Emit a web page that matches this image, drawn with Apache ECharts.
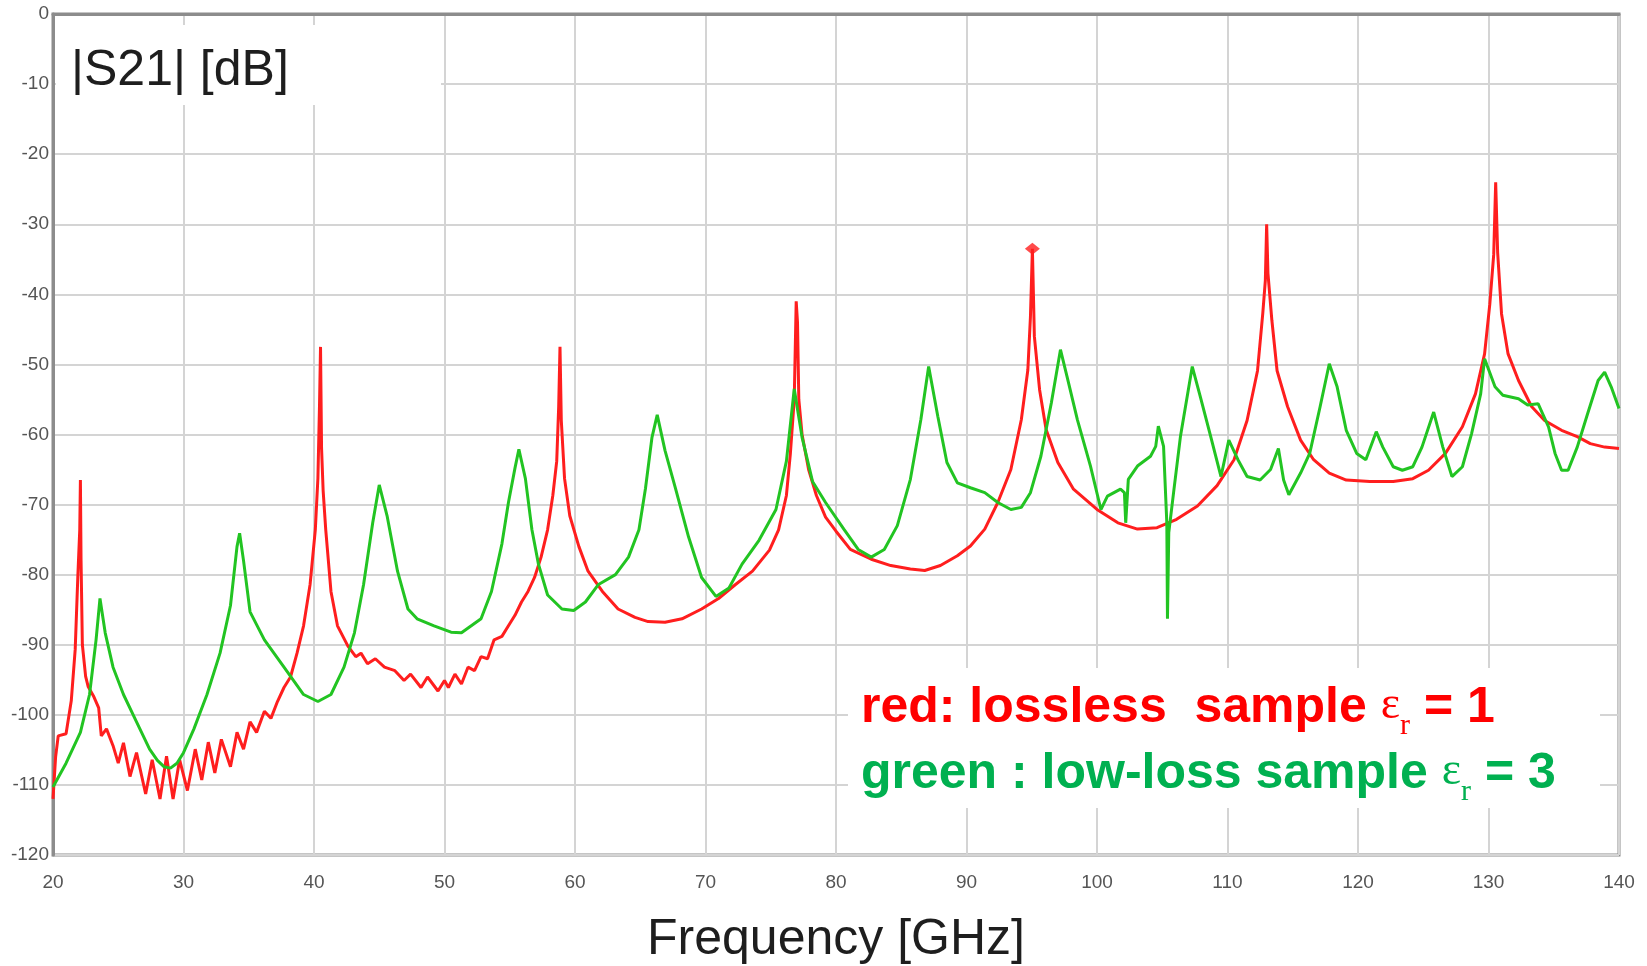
<!DOCTYPE html>
<html><head><meta charset="utf-8">
<script src="https://cdn.jsdelivr.net/npm/echarts@6.0.0/dist/echarts.min.js"></script>
<style>html,body{margin:0;padding:0;background:#fff}#c{width:1647px;height:966px}</style>
</head><body><div id="c"></div><script>
// ---- axis settings ----
const xMin = 20, xMax = 140, xStep = 10;
const yMin = -120, yMax = 0, yStep = 10;

// ---- red: lossless sample, eps_r = 1 ----
const redFreq = [20.0,20.2,20.4,21.0,21.4,21.7,21.9,22.05,22.1,22.15,22.25,22.5,22.7,23.1,23.5,23.7,24.1,24.6,25.0,25.4,25.9,26.4,27.1,27.6,28.2,28.7,29.2,29.7,30.3,30.9,31.4,31.9,32.4,32.9,33.6,34.1,34.6,35.1,35.6,36.2,36.7,37.2,37.7,38.2,38.7,39.2,39.7,40.1,40.3,40.42,40.5,40.58,40.7,40.9,41.3,41.8,42.6,43.2,43.6,44.1,44.7,45.4,46.2,46.9,47.4,48.2,48.7,49.5,50.0,50.3,50.8,51.3,51.8,52.3,52.8,53.3,53.8,54.4,54.9,55.4,55.9,56.4,56.9,57.4,57.9,58.3,58.6,58.75,58.85,58.95,59.2,59.6,60.3,61.0,62.1,63.3,64.6,65.6,66.9,68.2,69.7,71.0,72.3,73.6,74.9,75.6,76.2,76.5,76.8,76.95,77.05,77.15,77.4,77.9,78.5,79.2,80.0,81.1,82.7,84.2,85.7,86.8,88.0,89.3,90.3,91.4,92.4,93.4,94.2,94.7,94.9,95.05,95.2,95.6,96.1,97.0,98.2,100.0,101.6,103.1,104.6,106.1,107.7,109.2,110.5,111.5,112.3,112.7,112.9,113.0,113.1,113.4,113.8,114.6,115.6,116.6,117.8,119.1,120.9,122.7,124.2,125.4,126.7,128.0,129.0,129.7,130.1,130.4,130.55,130.7,131.0,131.5,132.3,133.3,134.3,135.6,136.8,137.8,138.9,140.0];
const redDb = [-112,-106,-103,-102.7,-98,-90.7,-80.4,-73.6,-66.5,-78,-90,-94.5,-96,-97.3,-99,-103,-102,-104.4,-106.9,-104,-108.8,-105.4,-111.3,-106.4,-112,-105.9,-112,-106.4,-110.8,-104.9,-109.3,-103.9,-108.3,-103.5,-107.4,-102.5,-104.9,-101,-102.5,-99.5,-100.5,-98.1,-96.1,-94.6,-91.2,-87.3,-81.4,-73.6,-66.2,-56,-47.5,-62,-68,-73.6,-82.4,-87.3,-90.2,-91.7,-91.2,-92.7,-92,-93.2,-93.7,-95.1,-94.2,-96.1,-94.6,-96.6,-95.1,-96.1,-94.2,-95.6,-93.2,-93.7,-91.7,-92,-89.3,-88.8,-87.3,-85.8,-83.9,-82.4,-80.4,-77.5,-73.6,-68.7,-63.8,-56,-47.5,-58,-66.3,-71.6,-76,-79.5,-82.4,-84.9,-86.1,-86.7,-86.8,-86.3,-84.9,-83.4,-81.4,-79.5,-76.5,-73.6,-68.7,-62.8,-55,-41,-44,-55,-60,-65,-68.7,-71.8,-73.8,-76.4,-77.8,-78.7,-79.2,-79.4,-78.7,-77.3,-75.9,-73.5,-69.7,-65,-57.9,-50.8,-43.2,-33.5,-46,-53.6,-59.3,-64,-67.8,-70.7,-72.6,-73.5,-73.3,-72.1,-70.2,-67.3,-63.6,-58,-50.9,-42.8,-38,-30,-37,-43.7,-50.9,-56,-60.8,-63.6,-65.5,-66.5,-66.7,-66.7,-66.3,-65.1,-62.7,-58.9,-54.2,-48.5,-41.4,-34.3,-24,-34,-42.8,-48.5,-52.3,-56,-58,-59.4,-60.3,-61.3,-61.8,-62];
const redMarker = [[95.05, -33.5]];

// ---- green: low-loss sample, eps_r = 3 ----
const greenFreq = [20.0,21.0,22.1,22.8,23.3,23.6,24.0,24.6,25.4,26.4,27.4,28.0,28.5,29.0,29.5,30.0,30.8,31.8,32.8,33.6,34.1,34.3,34.6,35.1,36.2,37.7,39.2,40.3,41.3,42.3,43.1,43.8,44.5,45.0,45.6,46.4,47.2,47.9,49.2,50.5,51.3,52.8,53.6,54.4,54.9,55.4,55.7,56.2,56.7,57.2,57.9,59.0,59.9,60.8,61.8,63.1,64.1,64.9,65.4,65.9,66.3,66.9,67.7,68.7,69.7,70.8,71.8,72.8,74.1,75.4,76.2,76.8,77.4,78.2,79.2,80.6,81.7,82.7,83.7,84.7,85.7,86.5,87.1,87.8,88.5,89.3,90.3,91.4,92.4,93.4,94.2,94.9,95.7,96.5,97.2,97.7,98.5,99.5,100.3,100.8,101.8,102.1,102.2,102.4,103.1,104.1,104.5,104.7,105.1,105.35,105.4,105.5,105.9,106.4,107.3,107.9,108.7,109.5,110.1,110.8,111.5,112.5,113.3,113.9,114.3,114.7,115.6,116.3,117.1,117.8,118.4,119.1,119.9,120.6,121.4,121.9,122.7,123.4,124.2,124.9,125.8,126.5,127.2,128.0,128.7,129.4,129.7,130.5,131.1,132.3,133.0,133.8,134.6,135.1,135.6,136.1,136.8,137.6,138.4,138.9,139.4,140.0];
const greenDb = [-110.3,-106.9,-102.5,-97.1,-89.3,-83.4,-88.3,-93.2,-97.1,-101,-104.9,-106.5,-107.4,-107.6,-106.9,-105.4,-102,-97.1,-91.2,-84.4,-76,-74.1,-78,-85.3,-89.3,-93.2,-97.1,-98.1,-97.1,-93.2,-88.3,-81.4,-72.6,-67.2,-71.6,-79.5,-84.9,-86.3,-87.3,-88.2,-88.3,-86.3,-82.4,-75.6,-69.7,-64.8,-62.1,-66.3,-73.6,-78.5,-82.9,-84.9,-85.1,-83.9,-81.4,-80,-77.5,-73.6,-67.7,-60.4,-57.2,-62.3,-67.7,-74.6,-80.4,-83.1,-81.9,-78.5,-75.1,-70.7,-63.8,-53.5,-60.4,-66.7,-69.7,-73.5,-76.4,-77.5,-76.4,-73,-66.4,-57.9,-50.3,-57.4,-64,-66.9,-67.6,-68.3,-69.7,-70.7,-70.4,-68.3,-63.1,-55.5,-47.9,-51.7,-57.9,-64.5,-70.7,-68.8,-67.8,-68.3,-72.6,-66.4,-64.5,-63.1,-61.7,-58.8,-61.7,-72.6,-86.3,-74,-67.8,-60.2,-50.3,-54.5,-60.2,-66,-60.8,-63.6,-66,-66.5,-65,-62,-66.5,-68.6,-65.5,-62.7,-56,-49.9,-53.2,-59.4,-62.7,-63.6,-59.6,-61.8,-64.6,-65.1,-64.6,-61.8,-56.8,-61.8,-66,-64.6,-59.9,-54.2,-49.2,-53.2,-54.4,-54.9,-55.8,-55.6,-58.9,-62.7,-65.1,-65.1,-61.8,-57,-52.3,-51.1,-53.2,-56.3];

// ---- texts ----
const titleText = '|S21| [dB]';
const xName = 'Frequency [GHz]';
const redLabel = ['red: lossless  sample ', 'ε', 'r', ' = 1'];
const greenLabel = ['green : low-loss sample ', 'ε', 'r', ' = 3'];

const pairs = (xs, ys) => xs.map((x, i) => [x, ys[i]]);
const RED = '#ff1e1e', GREEN = '#22c422';
const RED_TXT = '#ff0000', GREEN_TXT = '#00b050';

function richStyles(color) {
  return {
    a: {fontFamily: 'Liberation Sans', fontWeight: 'bold', fontSize: 50, lineHeight: 58, verticalAlign: 'top', fill: color},
    e: {fontFamily: 'Liberation Serif', fontWeight: 'normal', fontSize: 46, lineHeight: 58, verticalAlign: 'top', fill: color},
    s: {fontFamily: 'Liberation Serif', fontWeight: 'normal', fontSize: 30, lineHeight: 30, padding: [28, 0, 0, 0], verticalAlign: 'top', fill: color}
  };
}
function richText(parts) {
  return '{a|' + parts[0] + '}{e|' + parts[1] + '}{s|' + parts[2] + '}{a|' + parts[3] + '}';
}

const chart = echarts.init(document.getElementById('c'), null, {renderer: 'canvas'});
chart.setOption({
  animation: false,
  backgroundColor: '#ffffff',
  grid: {left: 53, right: 28, top: 14, bottom: 111, show: true, borderColor: '#8c8c8c', borderWidth: 3,
         backgroundColor: 'transparent', containLabel: false, outerBoundsMode: 'none'},
  xAxis: {
    type: 'value', min: xMin, max: xMax, interval: xStep,
    name: xName, nameLocation: 'middle', nameGap: 60,
    nameTextStyle: {fontFamily: 'Liberation Sans', fontSize: 50, color: '#1e1e1e'},
    axisLine: {show: true, lineStyle: {color: '#8c8c8c', width: 3}},
    axisTick: {show: false},
    axisLabel: {fontFamily: 'Liberation Sans', fontSize: 19, color: '#555', margin: 18},
    splitLine: {show: true, lineStyle: {color: '#d4d4d4', width: 2}}
  },
  yAxis: {
    type: 'value', min: yMin, max: yMax, interval: yStep,
    axisLine: {show: true, lineStyle: {color: '#8c8c8c', width: 3}},
    axisTick: {show: false},
    axisLabel: {fontFamily: 'Liberation Sans', fontSize: 19, color: '#555', margin: 4},
    splitLine: {show: true, lineStyle: {color: '#d4d4d4', width: 2}}
  },
  series: [
    {type: 'line', data: pairs(redFreq, redDb), showSymbol: false, smooth: false,
     lineStyle: {color: RED, width: 3}, itemStyle: {color: RED}, z: 3},
    {type: 'line', data: pairs(greenFreq, greenDb), showSymbol: false, smooth: false,
     lineStyle: {color: GREEN, width: 3}, itemStyle: {color: GREEN}, z: 4},
    {type: 'scatter', data: redMarker, symbol: 'diamond', symbolSize: [15, 12],
     itemStyle: {color: RED}, z: 5}
  ],
  graphic: [
    {type: 'rect', z: 1, shape: {x: 56, y: 25, width: 385, height: 80}, style: {fill: '#ffffff'}},
    {type: 'text', z: 6, x: 71, y: 46, style: {text: titleText, font: '50px "Liberation Sans"', fill: '#1e1e1e'}},
    {type: 'rect', z: 1, shape: {x: 848, y: 668, width: 752, height: 140}, style: {fill: '#ffffff'}},
    {type: 'text', z: 6, x: 861, y: 683, style: {text: richText(redLabel), rich: richStyles(RED_TXT)}},
    {type: 'text', z: 6, x: 861, y: 749, style: {text: richText(greenLabel), rich: richStyles(GREEN_TXT)}}
  ]
});
</script></body></html>
